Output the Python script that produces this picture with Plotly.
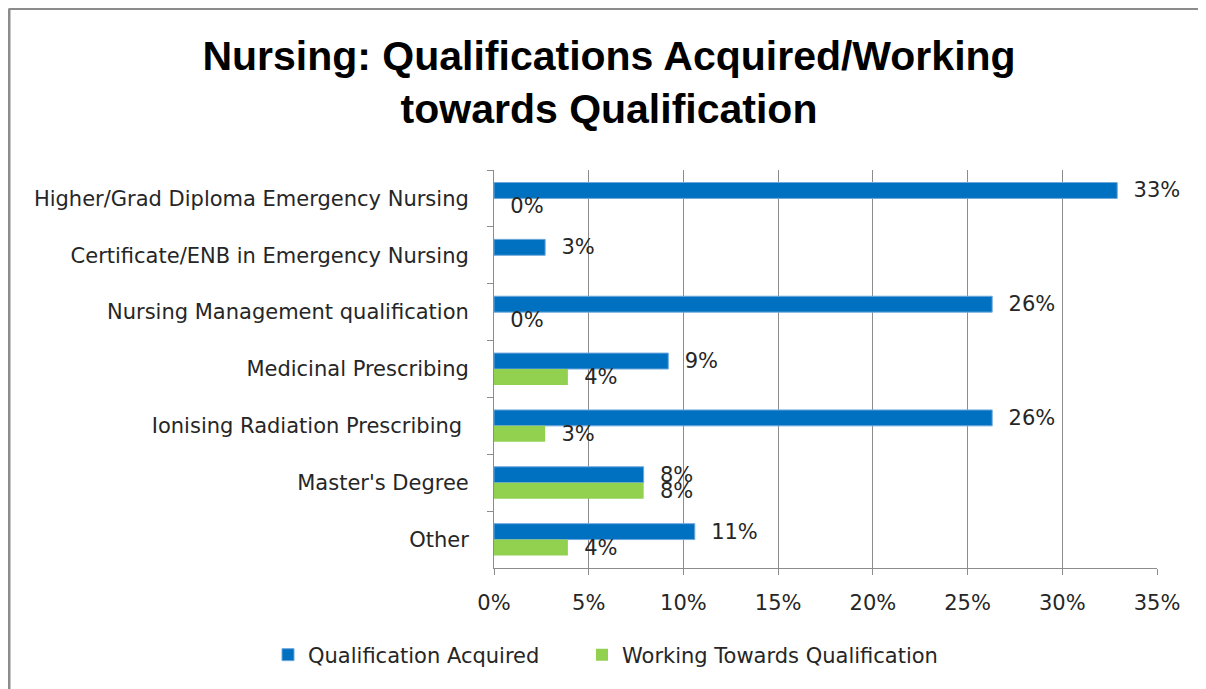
import plotly.graph_objects as go

categories = [
    "Higher/Grad Diploma Emergency Nursing",
    "Certificate/ENB in Emergency Nursing",
    "Nursing Management qualification",
    "Medicinal Prescribing",
    "Ionising Radiation Prescribing ",
    "Master's Degree",
    "Other",
]
acquired = [0.329, 0.027, 0.263, 0.092, 0.263, 0.079, 0.106]
working = [0.0, None, 0.0, 0.039, 0.027, 0.079, 0.039]

x_ticks = [0, 0.05, 0.10, 0.15, 0.20, 0.25, 0.30, 0.35]
x_tick_labels = ["0%", "5%", "10%", "15%", "20%", "25%", "30%", "35%"]

FONT = "DejaVu Sans"
TFONT = "Liberation Sans"
FS = 21

def fmt(v):
    return "" if v is None else f"  {round(v * 100):.0f}%"

fig = go.Figure()
fig.add_trace(go.Bar(
    y=categories, x=acquired, orientation="h", name="Qualification Acquired",
    marker=dict(color="#0070C0", line=dict(color="#6FA8DC", width=1)),
    text=[fmt(v) for v in acquired], textposition="outside",
    constraintext="none",
    textfont=dict(size=FS, color="#262626", family=FONT),
    cliponaxis=False, legend="legend",
))
fig.add_trace(go.Bar(
    y=categories, x=working, orientation="h", name="Working Towards Qualification",
    marker=dict(color="#92D050", line=dict(width=0)),
    text=[fmt(v) for v in working], textposition="outside",
    constraintext="none",
    textfont=dict(size=FS, color="#262626", family=FONT),
    cliponaxis=False, legend="legend2",
))

# page body has an 8px margin, so figure coords = reference coords - 8
OFF = 8
W, H = 1206, 689
L, R, T, B = 494 - OFF, 57, 170 - OFF, 129
pw, ph = W - L - R, H - T - B

def px_x(x):
    return (x - L) / pw

def px_y(y):
    return (H - B - y) / ph

legend_common = dict(
    orientation="h", xref="container", yref="container",
    xanchor="left", y=1 - (655 - OFF) / H, yanchor="middle",
    font=dict(size=FS, color="#262626"), itemwidth=30,
    bgcolor="rgba(0,0,0,0)",
)

fig.update_layout(
    width=W, height=H,
    margin=dict(l=L, r=R, t=T, b=B, autoexpand=False),
    paper_bgcolor="white", plot_bgcolor="white",
    barmode="group", bargap=0.44, bargroupgap=0,
    font=dict(family=FONT, color="#262626", size=FS),
    title=dict(
        text="<b>Nursing: Qualifications Acquired/Working<br>towards Qualification</b>",
        x=(609 - OFF) / W, xanchor="center", y=1 - 62 / H, yanchor="middle",
        xref="container", yref="container",
        font=dict(size=41, color="black", family=TFONT),
    ),
    xaxis=dict(
        range=[0, 0.35], tickvals=x_ticks, ticktext=x_tick_labels,
        showgrid=True, gridcolor="#8C8C8C", gridwidth=1,
        showline=True, linecolor="#8C8C8C", linewidth=1,
        ticks="outside", ticklen=6, tickcolor="#8C8C8C",
        tickfont=dict(size=FS, color="#262626"), zeroline=False,
        ticklabelstandoff=10,
    ),
    yaxis=dict(
        autorange="reversed", showline=True, linecolor="#8C8C8C", linewidth=1,
        ticks="outside", ticklen=6, tickcolor="#8C8C8C", tickson="boundaries",
        tickfont=dict(size=FS, color="#262626"), ticklabelstandoff=20,
    ),
    legend=dict(x=(268 - OFF) / W, **legend_common),
    legend2=dict(x=(582 - OFF) / W, **legend_common),
    showlegend=True,
)

border = "#8C8C8C"
fig.add_shape(type="line", xref="paper", yref="paper",
              x0=px_x(1), x1=px_x(1), y0=px_y(0.5), y1=px_y(720),
              line=dict(color=border, width=3))
fig.add_shape(type="line", xref="paper", yref="paper",
              x0=px_x(1), x1=px_x(1240), y0=px_y(0.5), y1=px_y(0.5),
              line=dict(color=border, width=3))

fig.write_html("out.html")
